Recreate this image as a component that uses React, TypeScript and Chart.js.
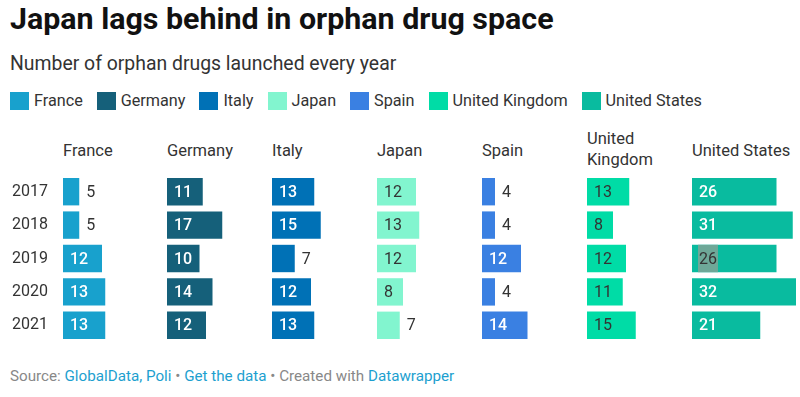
import React, { useEffect, useRef } from 'react';
import { Chart, registerables } from 'chart.js';

Chart.register(...registerables);

// ---- Data ----
const years = ['2017', '2018', '2019', '2020', '2021'];
const countries = ['France', 'Germany', 'Italy', 'Japan', 'Spain', 'United Kingdom', 'United States'];
const headerLines = [['France'], ['Germany'], ['Italy'], ['Japan'], ['Spain'], ['United', 'Kingdom'], ['United States']];
const france = [5, 5, 12, 13, 13];
const germany = [11, 17, 10, 14, 12];
const italy = [13, 15, 7, 12, 13];
const japan = [12, 13, 12, 8, 7];
const spain = [4, 4, 12, 4, 14];
const unitedKingdom = [13, 8, 12, 11, 15];
const unitedStates = [26, 31, 26, 32, 21];
const seriesValues = [france, germany, italy, japan, spain, unitedKingdom, unitedStates];
const xMax = 32;
const highlighted = { country: 'United States', year: '2019' };

// ---- Styles ----
const colors = ['#18a1cd', '#15607a', '#0071b6', '#82f5cf', '#3a80e2', '#00dca6', '#09bb9f'];
const darkInside = [false, false, false, true, false, true, false];
const FONT = 'Roboto, "Noto Sans", sans-serif';
const panelLefts = [63, 167, 272, 377, 482, 587, 692];
const panelWidth = 104;
const chartTop = 175;
const chartHeight = 167;
const yearAxisWidth = 63;

const valueLabelPlugin = {
  id: 'valueLabels',
  afterDatasetsDraw(chart: any) {
    const ctx = chart.ctx;
    const idx = chart.options.plugins.valueLabels.index;
    const meta = chart.getDatasetMeta(0);
    const data = chart.data.datasets[0].data as number[];
    ctx.save();
    meta.data.forEach((bar: any, i: number) => {
      const p = bar.getProps(['x', 'y', 'base', 'height'], true);
      const text = String(data[i]);
      const w = p.x - p.base;
      const pad = 7;
      ctx.font = `400 16px ${FONT}`;
      const tw = ctx.measureText(text).width;
      const inside = w >= tw + 2 * pad;
      let color = '#333333';
      let tx = p.x + pad;
      if (inside) {
        tx = p.base + pad;
        if (!darkInside[idx]) {
          color = '#ffffff';
          ctx.font = `500 16px ${FONT}`;
        }
      }
      const isHl = countries[idx] === highlighted.country && years[i] === highlighted.year;
      if (isHl) {
        ctx.font = `400 16px ${FONT}`;
        const tw2 = ctx.measureText(text).width;
        ctx.fillStyle = '#6ea898';
        ctx.fillRect(tx - 1, p.y - p.height / 2, tw2 + 2, p.height);
        color = '#333333';
      }
      ctx.fillStyle = color;
      ctx.textAlign = 'left';
      ctx.textBaseline = 'middle';
      ctx.fillText(text, tx, p.y + 1);
    });
    ctx.restore();
  },
};

function Panel({ index }: { index: number }) {
  const ref = useRef<HTMLCanvasElement | null>(null);
  const showYears = index === 0;
  const width = showYears ? panelWidth + yearAxisWidth : panelWidth;
  useEffect(() => {
    if (!ref.current) return;
    const chart = new Chart(ref.current, {
      type: 'bar',
      data: {
        labels: years,
        datasets: [
          {
            label: countries[index],
            data: seriesValues[index],
            backgroundColor: colors[index],
            borderWidth: 0,
            barPercentage: 0.82,
            categoryPercentage: 1,
          },
        ],
      },
      plugins: [valueLabelPlugin],
      options: {
        indexAxis: 'y',
        responsive: false,
        animation: false,
        events: [],
        layout: { padding: { left: showYears ? 12 : 0, right: 0, top: 0, bottom: 0 }, autoPadding: false },
        plugins: {
          legend: { display: false },
          tooltip: { enabled: false },
          valueLabels: { index },
        } as any,
        scales: {
          x: { display: false, min: 0, max: xMax },
          y: {
            display: showYears,
            grid: { display: false, drawTicks: false },
            border: { display: false },
            ticks: {
              crossAlign: 'far',
              padding: 0,
              color: '#333333',
              font: { family: FONT, size: 16 },
            },
            afterFit: (scale: any) => {
              scale.width = showYears ? yearAxisWidth - 12 : 0;
              scale.paddingTop = 0;
              scale.paddingBottom = 0;
            },
          },
        },
      } as any,
    });
    return () => chart.destroy();
  }, [index]);
  return (
    <canvas
      ref={ref}
      width={width}
      height={chartHeight}
      style={{
        position: 'absolute',
        left: showYears ? panelLefts[0] - yearAxisWidth : panelLefts[index],
        top: chartTop,
        width,
        height: chartHeight,
      }}
    />
  );
}

export default function App() {
  return (
    <div
      style={{
        position: 'fixed',
        left: 0,
        top: 0,
        width: 800,
        height: 397,
        background: '#ffffff',
        fontFamily: FONT,
        overflow: 'hidden',
      }}
    >
      <div
        style={{
          position: 'absolute',
          left: 10,
          top: 4,
          fontSize: 30.4,
          lineHeight: '30px',
          fontWeight: 700,
          color: '#111111',
          whiteSpace: 'nowrap',
        }}
      >
        Japan lags behind in orphan drug space
      </div>
      <div
        style={{
          position: 'absolute',
          left: 10,
          top: 54,
          fontSize: 19.4,
          lineHeight: '19px',
          color: '#333333',
          whiteSpace: 'nowrap',
        }}
      >
        Number of orphan drugs launched every year
      </div>
      <div
        style={{
          position: 'absolute',
          left: 10,
          top: 92,
          display: 'flex',
          alignItems: 'center',
          gap: 14,
          fontSize: 16.2,
          lineHeight: '18px',
          color: '#333333',
          whiteSpace: 'nowrap',
        }}
      >
        {countries.map((c, i) => (
          <div key={c} style={{ display: 'flex', alignItems: 'center' }}>
            <span
              style={{ display: 'inline-block', width: 19, height: 18, background: colors[i], marginRight: 5 }}
            />
            <span>{c}</span>
          </div>
        ))}
      </div>
      {headerLines.map((lines, i) => (
        <div
          key={i}
          style={{
            position: 'absolute',
            left: panelLefts[i],
            top: lines.length > 1 ? 128 : 140,
            fontSize: 16.5,
            lineHeight: '21px',
            color: '#333333',
            whiteSpace: 'nowrap',
          }}
        >
          {lines.map((l) => (
            <div key={l}>{l}</div>
          ))}
        </div>
      ))}
      {countries.map((c, i) => (
        <Panel key={c} index={i} />
      ))}
      <div
        style={{
          position: 'absolute',
          left: 10,
          top: 368,
          fontSize: 15.2,
          lineHeight: '16px',
          color: '#888888',
          whiteSpace: 'nowrap',
        }}
      >
        Source: <span style={{ color: '#1d9fcf' }}>GlobalData, Poli</span> •{' '}
        <span style={{ color: '#1d9fcf' }}>Get the data</span> • Created with{' '}
        <span style={{ color: '#1d9fcf' }}>Datawrapper</span>
      </div>
    </div>
  );
}
